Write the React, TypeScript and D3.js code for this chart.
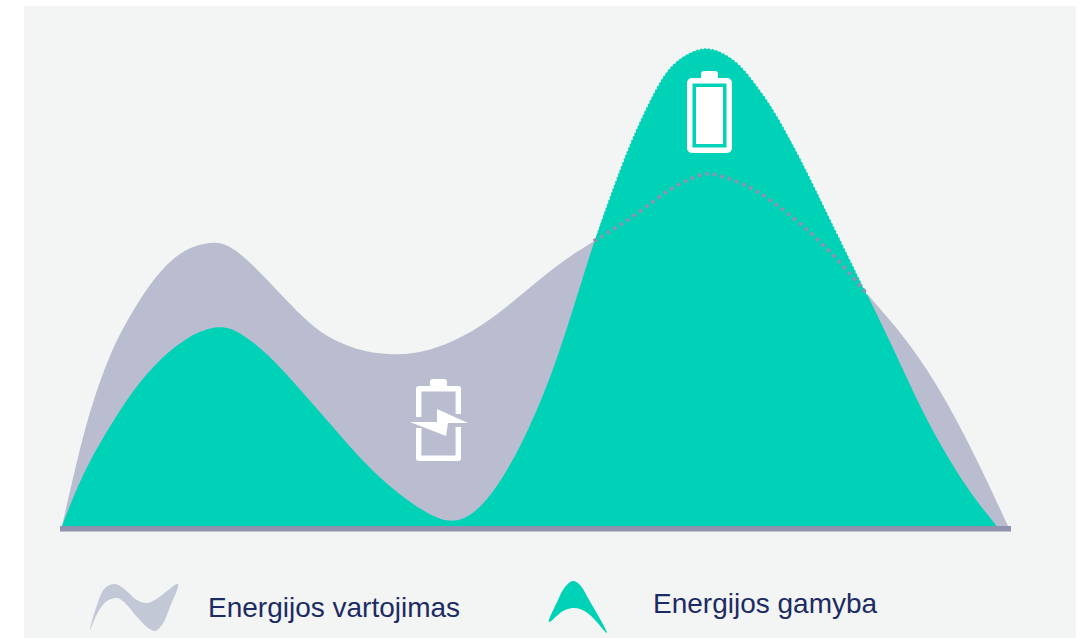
import React from "react";
import * as d3 from "d3";

// share of the day (0-100) and level (0-100, generation peak = 100)
const consumptionX = [0, 1.9, 3.3, 5.1, 6.9, 9.3, 11.7, 13.8, 16.2, 17.8, 19.9, 22.7, 25.5, 28, 30.4, 31.8, 35.4, 38.9, 42.4, 46, 49.5, 53, 56.2, 60.8, 64.3, 67.8, 68.7, 72, 74.8, 78.3, 81.9, 85.1, 88.3, 91.4, 94.6, 97.4, 100];
const consumptionY = [0, 16.5, 26.4, 36.2, 43.1, 50.8, 56.1, 58.6, 59.6, 58.6, 55.2, 49.4, 43.5, 39.5, 37.5, 36.6, 35.6, 36.6, 39.5, 44.1, 50, 55.6, 59.6, 65.1, 70.9, 73.8, 73.8, 71.8, 68.4, 63, 56.1, 48.5, 41.4, 33.1, 22.2, 11.1, 0];
const generationX = [0, 2.2, 4.8, 7.5, 10.4, 13.5, 16.7, 18.8, 21.7, 25.2, 28.3, 31.8, 35.4, 38.9, 41.2, 43.4, 46, 48.7, 51.3, 53.7, 56.2, 59.3, 61.1, 63.2, 64.6, 66.4, 68.2, 69.9, 71.7, 73.5, 75.2, 78.2, 81.2, 85.1, 88.3, 91, 93.6, 96, 98.8];
const generationY = [0, 11.1, 20.1, 28.5, 35.1, 40, 42.2, 40.6, 36.2, 28.5, 21.5, 13.4, 6.9, 2.1, 0.6, 2.1, 7.9, 17.4, 29.1, 43.1, 59.6, 76.6, 84.9, 93.3, 96.9, 99.3, 100.3, 99.1, 96.7, 92, 87.4, 76.6, 64.2, 48.5, 35.4, 23.6, 14.4, 6.9, 0];
const surplusStart = 56.2;
const surplusEnd = 85.1;
const legendLabels = ["Energijos vartojimas", "Energijos gamyba"];

const greySwatch: [number, number][] = [[90, 630], [97, 605], [105, 588], [115, 584], [123, 588], [137, 600], [147, 603], [158, 598], [178, 584], [170, 607], [162, 625], [155, 631], [148, 628], [137, 617], [125, 603], [117, 598], [107, 601], [98, 612]];
const tealSwatch: [number, number][] = [[549, 622], [558, 600], [565, 587], [573, 581], [580, 585], [588, 598], [607, 633], [590, 615], [580, 609], [573, 608], [563, 611]];

const width = 1084;
const height = 638;
const grey = "#b9bdcf";
const teal = "#00d2b8";
const axisColor = "#8e93b0";
const textColor = "#1c2b63";
const panel = "#f3f5f4";

type P = [number, number];
const zip = (xs: number[], ys: number[]): P[] => xs.map((x, i) => [x, ys[i]]);

const App = () => {
  const x = d3.scaleLinear().domain([0, 100]).range([62, 1008]);
  const y = d3.scaleLinear().domain([0, 100]).range([526, 48]);
  const area = d3
    .area<P>()
    .x((d) => x(d[0]))
    .y0(y(0))
    .y1((d) => y(d[1]))
    .curve(d3.curveBasis);
  const line = d3
    .line<P>()
    .x((d) => x(d[0]))
    .y((d) => y(d[1]))
    .curve(d3.curveBasis);
  const consumption = zip(consumptionX, consumptionY);
  const generation = zip(generationX, generationY);
  const inSurplus = (d: P) => d[0] >= surplusStart && d[0] <= surplusEnd;
  const swatch = d3.line().curve(d3.curveCatmullRomClosed.alpha(0.5));

  return (
    <svg
      width={width}
      height={height}
      style={{ position: "absolute", left: 0, top: 0, display: "block", background: "#fff" }}
    >
      <rect x={24} y={6} width={1052} height={632} fill={panel} />
      <path d={area(consumption)!} fill={grey} />
      <path d={area(generation)!} fill={teal} />
      {/* stippled edge of the surplus hump */}
      <path
        d={line(generation.filter(inSurplus))!}
        fill="none"
        stroke={panel}
        strokeWidth={1.5}
        strokeDasharray="2 2"
      />
      <path
        d={line(consumption.filter(inSurplus))!}
        fill="none"
        stroke={axisColor}
        strokeWidth={3.6}
        strokeDasharray="3.6 4.1"
      />
      <rect x={60} y={526} width={951} height={5.5} fill={axisColor} />

      {/* full battery */}
      <g fill="#fff">
        <rect x={701} y={71} width={17} height={10} rx={3} />
        <rect x={689.75} y={80.75} width={39.5} height={69.5} rx={2} fill="none" stroke="#fff" strokeWidth={5.5} />
        <rect x={696} y={87} width={27} height={57} />
      </g>

      {/* charging battery */}
      <g fill="#fff">
        <rect x={430} y={379} width={17} height={10} rx={3} />
        <path
          d="M418.7 417V388.7H458.3V414M458.3 427V458.3H418.7V428"
          fill="none"
          stroke="#fff"
          strokeWidth={5.4}
          strokeLinejoin="round"
        />
        <polygon points="410,422 437,422 437,409 468,423 448,423 446,436" />
      </g>

      {/* legend */}
      <path d={swatch(greySwatch)!} fill="#c3c8d6" />
      <path d={swatch(tealSwatch)!} fill={teal} />
      <text x={208} y={617} fontFamily="Liberation Sans, Arial, sans-serif" fontSize={28} fill={textColor}>
        {legendLabels[0]}
      </text>
      <text x={653} y={613} fontFamily="Liberation Sans, Arial, sans-serif" fontSize={28} fill={textColor}>
        {legendLabels[1]}
      </text>
    </svg>
  );
};

export default App;
